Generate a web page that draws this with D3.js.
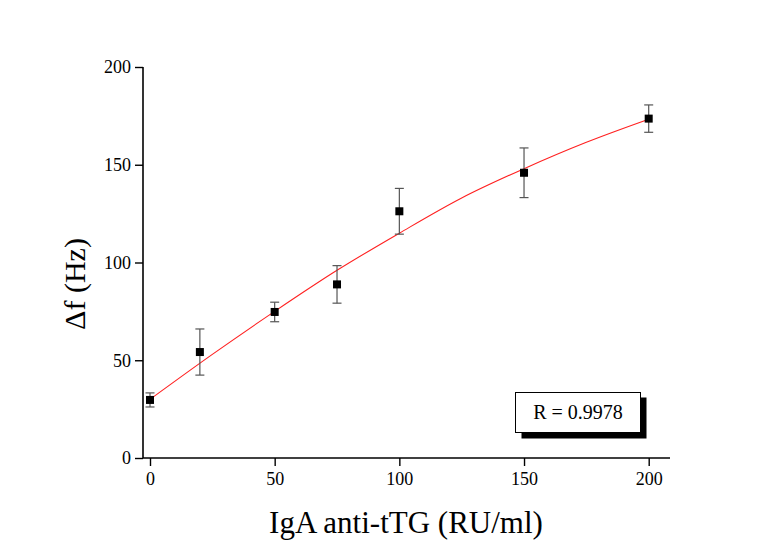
<!DOCTYPE html>
<html><head><meta charset="utf-8">
<script src="https://cdn.jsdelivr.net/npm/d3@7"></script>
<style>body{margin:0;background:#fff}svg{display:block}</style>
</head><body>
<svg id="c" width="761" height="540"></svg>
<script>
const concentrations = [0, 20, 50, 75, 100, 150, 200];
const deltaF = [29.7, 54.2, 74.7, 88.8, 126.2, 145.9, 173.6];
const errors = [3.6, 11.8, 5.0, 9.6, 11.7, 12.7, 7.0];
const fitX = [0, 25, 50, 75, 100, 125, 150, 175, 200];
const fitY = [30, 53, 75, 96, 115, 133, 148, 161.5, 173.3];
const xTicks = [0, 50, 100, 150, 200];
const yTicks = [0, 50, 100, 150, 200];
const rLabel = "R = 0.9978";

const svg = d3.select("#c");
const x = d3.scaleLinear().domain([0, 200]).range([150, 648.7]);
const y = d3.scaleLinear().domain([0, 200]).range([458, 67]);
const font = "'Liberation Serif','Times New Roman',serif";

// axes
const xAxis = svg.append("g").attr("transform", "translate(0,458)")
  .call(d3.axisBottom(x).tickValues(xTicks).tickSize(8).tickPadding(6).tickFormat(d3.format("d")));
xAxis.select(".domain").attr("d", "M143,0H670");
const yAxis = svg.append("g").attr("transform", "translate(143,0)")
  .call(d3.axisLeft(y).tickValues(yTicks).tickSize(8).tickPadding(4).tickFormat(d3.format("d")));
yAxis.select(".domain").attr("d", "M0,67V458");
svg.selectAll(".domain").attr("stroke", "#000").attr("stroke-width", 1.6);
svg.selectAll(".tick line").attr("stroke", "#000").attr("stroke-width", 1.4);
svg.selectAll(".tick text").attr("font-family", font).attr("font-size", 18).attr("fill", "#000");

// fit curve
svg.append("path")
  .datum(fitX.map((d, i) => [d, fitY[i]]))
  .attr("fill", "none").attr("stroke", "#ff2020").attr("stroke-width", 1.1)
  .attr("d", d3.line().x(d => x(d[0])).y(d => y(d[1])).curve(d3.curveMonotoneX));

// error bars
const pts = concentrations.map((c, i) => ({c, v: deltaF[i], e: errors[i]}));
const eb = svg.append("g").attr("stroke", "#555").attr("stroke-width", 1.2);
pts.forEach(p => {
  eb.append("line").attr("x1", x(p.c)).attr("x2", x(p.c)).attr("y1", y(p.v - p.e)).attr("y2", y(p.v + p.e));
  [p.v - p.e, p.v + p.e].forEach(v => {
    eb.append("line").attr("x1", x(p.c) - 4.5).attr("x2", x(p.c) + 4.5).attr("y1", y(v)).attr("y2", y(v));
  });
});

// markers
svg.append("g").selectAll("rect").data(pts).join("rect")
  .attr("x", d => x(d.c) - 4).attr("y", d => y(d.v) - 4)
  .attr("width", 8).attr("height", 8).attr("fill", "#000");

// R box
svg.append("rect").attr("x", 521.5).attr("y", 397.5).attr("width", 125).attr("height", 41).attr("fill", "#000");
svg.append("rect").attr("x", 515.5).attr("y", 392.5).attr("width", 125).attr("height", 40)
  .attr("fill", "#fff").attr("stroke", "#000").attr("stroke-width", 1);
svg.append("text").attr("x", 578).attr("y", 418.5).attr("text-anchor", "middle")
  .attr("font-family", font).attr("font-size", 20).text(rLabel);

// titles
svg.append("text").attr("x", 406).attr("y", 533).attr("text-anchor", "middle")
  .attr("font-family", font).attr("font-size", 31).text("IgA anti-tTG (RU/ml)");
svg.append("text").attr("transform", "translate(85,284) rotate(-90)").attr("text-anchor", "middle")
  .attr("font-family", font).attr("font-size", 30).text("Δf (Hz)");
</script>
</body></html>
